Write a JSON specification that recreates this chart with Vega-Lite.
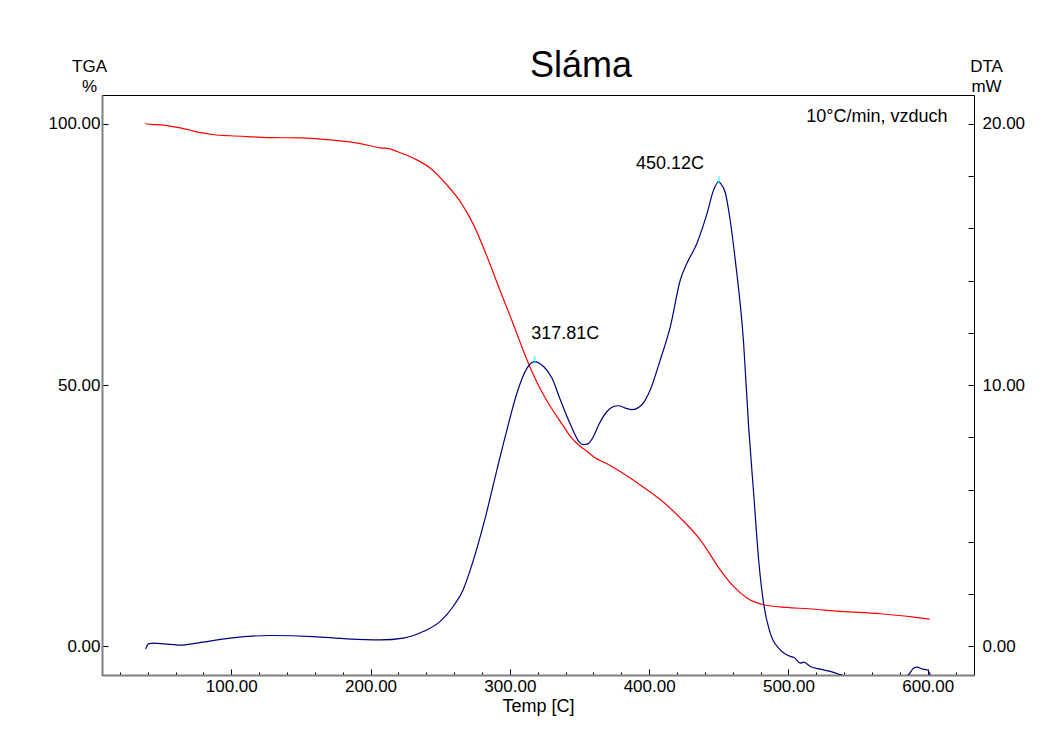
{
  "$schema": "https://vega.github.io/schema/vega-lite/v6.json",
  "width": 872,
  "height": 580,
  "autosize": "none",
  "padding": {"left": 102, "top": 95, "right": 76, "bottom": 58},
  "background": "white",
  "config": {
    "view": {"stroke": "black", "strokeWidth": 1},
    "font": "Liberation Sans",
    "axis": {
      "grid": false,
      "labelFont": "Liberation Sans",
      "titleFont": "Liberation Sans",
      "labelColor": "black",
      "titleColor": "black",
      "tickColor": "black",
      "labelFontSize": 17,
      "titleFontSize": 17,
      "titleFontWeight": "normal",
      "labelOverlap": false,
      "labelFlush": false
    }
  },
  "title": {
    "text": "Sláma",
    "font": "Liberation Sans",
    "fontSize": 36,
    "fontWeight": "normal",
    "color": "black",
    "anchor": "middle",
    "frame": "group",
    "baseline": "alphabetic",
    "offset": 0,
    "dx": 43,
    "dy": 56
  },
  "datasets": {
    "tga": [
      {"T": 38.3, "TGA": 100.0},
      {"T": 44.2, "TGA": 99.85},
      {"T": 49.0, "TGA": 99.8},
      {"T": 55.0, "TGA": 99.6},
      {"T": 63.4, "TGA": 99.2},
      {"T": 70.0, "TGA": 98.8},
      {"T": 77.7, "TGA": 98.3},
      {"T": 88.0, "TGA": 97.9},
      {"T": 99.3, "TGA": 97.7},
      {"T": 115.0, "TGA": 97.5},
      {"T": 128.0, "TGA": 97.35},
      {"T": 149.5, "TGA": 97.3},
      {"T": 171.0, "TGA": 96.9},
      {"T": 192.6, "TGA": 96.2},
      {"T": 207.0, "TGA": 95.4},
      {"T": 213.5, "TGA": 95.25},
      {"T": 215.4, "TGA": 95.05},
      {"T": 230.9, "TGA": 93.4},
      {"T": 242.9, "TGA": 91.5},
      {"T": 254.8, "TGA": 88.3},
      {"T": 264.4, "TGA": 85.1},
      {"T": 273.9, "TGA": 80.7},
      {"T": 283.6, "TGA": 74.6},
      {"T": 293.1, "TGA": 68.0},
      {"T": 302.7, "TGA": 61.5},
      {"T": 312.3, "TGA": 54.8},
      {"T": 319.5, "TGA": 50.5},
      {"T": 326.6, "TGA": 47.0},
      {"T": 338.6, "TGA": 42.1},
      {"T": 343.4, "TGA": 40.2},
      {"T": 350.5, "TGA": 38.3},
      {"T": 354.1, "TGA": 37.6},
      {"T": 360.1, "TGA": 36.3},
      {"T": 372.0, "TGA": 34.6},
      {"T": 393.6, "TGA": 30.9},
      {"T": 408.0, "TGA": 28.1},
      {"T": 422.3, "TGA": 24.6},
      {"T": 436.7, "TGA": 20.4},
      {"T": 451.0, "TGA": 14.67},
      {"T": 460.6, "TGA": 11.48},
      {"T": 470.2, "TGA": 9.26},
      {"T": 482.1, "TGA": 7.98},
      {"T": 498.9, "TGA": 7.46},
      {"T": 514.4, "TGA": 7.21},
      {"T": 537.2, "TGA": 6.7},
      {"T": 565.9, "TGA": 6.26},
      {"T": 589.8, "TGA": 5.62},
      {"T": 601.3, "TGA": 5.24}
    ],
    "dta": [
      {"T": 38.5, "DTA": -0.1},
      {"T": 40.6, "DTA": 0.1},
      {"T": 44.2, "DTA": 0.13},
      {"T": 52.0, "DTA": 0.1},
      {"T": 63.4, "DTA": 0.05},
      {"T": 75.4, "DTA": 0.13},
      {"T": 99.3, "DTA": 0.32},
      {"T": 128.0, "DTA": 0.42},
      {"T": 158.9, "DTA": 0.38},
      {"T": 183.1, "DTA": 0.29},
      {"T": 207.0, "DTA": 0.25},
      {"T": 223.5, "DTA": 0.32},
      {"T": 237.8, "DTA": 0.57},
      {"T": 250.0, "DTA": 0.96},
      {"T": 259.3, "DTA": 1.53},
      {"T": 266.5, "DTA": 2.17},
      {"T": 271.6, "DTA": 2.93},
      {"T": 282.0, "DTA": 4.85},
      {"T": 290.7, "DTA": 6.76},
      {"T": 297.9, "DTA": 8.29},
      {"T": 305.1, "DTA": 9.7},
      {"T": 312.3, "DTA": 10.65},
      {"T": 317.5, "DTA": 10.9},
      {"T": 324.2, "DTA": 10.71},
      {"T": 330.2, "DTA": 10.27},
      {"T": 336.2, "DTA": 9.44},
      {"T": 343.4, "DTA": 8.5},
      {"T": 350.5, "DTA": 7.78},
      {"T": 352.9, "DTA": 7.72},
      {"T": 356.0, "DTA": 7.75},
      {"T": 360.1, "DTA": 8.04},
      {"T": 364.0, "DTA": 8.5},
      {"T": 369.7, "DTA": 8.99},
      {"T": 374.0, "DTA": 9.17},
      {"T": 378.0, "DTA": 9.21},
      {"T": 383.0, "DTA": 9.12},
      {"T": 387.6, "DTA": 9.06},
      {"T": 394.8, "DTA": 9.25},
      {"T": 400.8, "DTA": 9.82},
      {"T": 408.0, "DTA": 10.97},
      {"T": 415.2, "DTA": 12.24},
      {"T": 422.4, "DTA": 14.03},
      {"T": 427.2, "DTA": 14.67},
      {"T": 434.4, "DTA": 15.44},
      {"T": 441.6, "DTA": 16.58},
      {"T": 446.3, "DTA": 17.47},
      {"T": 449.9, "DTA": 17.79},
      {"T": 451.0, "DTA": 17.73},
      {"T": 454.7, "DTA": 17.35},
      {"T": 457.0, "DTA": 16.71},
      {"T": 461.8, "DTA": 14.79},
      {"T": 467.8, "DTA": 11.61},
      {"T": 471.4, "DTA": 8.42},
      {"T": 475.0, "DTA": 5.87},
      {"T": 478.6, "DTA": 3.32},
      {"T": 482.1, "DTA": 1.66},
      {"T": 486.9, "DTA": 0.51},
      {"T": 494.1, "DTA": -0.13},
      {"T": 501.3, "DTA": -0.38},
      {"T": 504.0, "DTA": -0.42},
      {"T": 508.5, "DTA": -0.64},
      {"T": 511.0, "DTA": -0.6},
      {"T": 515.7, "DTA": -0.77},
      {"T": 522.9, "DTA": -0.87},
      {"T": 532.4, "DTA": -0.99},
      {"T": 537.2, "DTA": -1.08},
      {"T": 545.0, "DTA": -1.18},
      {"T": 565.0, "DTA": -1.25},
      {"T": 583.0, "DTA": -1.18},
      {"T": 586.2, "DTA": -1.08},
      {"T": 589.8, "DTA": -0.83},
      {"T": 592.2, "DTA": -0.79},
      {"T": 595.8, "DTA": -0.86},
      {"T": 599.4, "DTA": -0.89},
      {"T": 601.3, "DTA": -1.02},
      {"T": 602.0, "DTA": -1.15}
    ],
    "peaks": [
      {"T": 317.81, "DTA": 10.97},
      {"T": 450.12, "DTA": 17.84}
    ],
    "peakLabels": [
      {"T": 315.4, "DTA": 11.76, "label": "317.81C"},
      {"T": 390.5, "DTA": 18.27, "label": "450.12C"}
    ],
    "notes": [
      {"T": 512.8, "TGA": 100.4, "label": "10°C/min, vzduch"}
    ]
  },
  "layer": [
    {
      "data": {"name": "tga"},
      "mark": {"type": "line", "color": "#FF0000", "strokeWidth": 1.2, "clip": true, "interpolate": "monotone"},
      "encoding": {
        "x": {
          "field": "T",
          "type": "quantitative",
          "scale": {"domain": [7.2, 633.2], "nice": false, "zero": false},
          "axis": {
            "orient": "bottom",
            "values": [100, 200, 300, 400, 500, 600],
            "format": ".2f",
            "offset": -6,
            "tickSize": 6,
            "labelPadding": 3,
            "domain": false,
            "title": "Temp [C]",
            "titleFontSize": 18,
            "titleY": 42,
            "titleBaseline": "alphabetic"
          }
        },
        "y": {
          "field": "TGA",
          "type": "quantitative",
          "scale": {"domain": [-5.46, 105.5], "nice": false, "zero": false},
          "axis": {
            "orient": "left",
            "values": [0, 50, 100],
            "format": ".2f",
            "offset": -6,
            "tickSize": 6,
            "labelPadding": 2,
            "domain": false,
            "title": ["TGA", "%"],
            "titleAngle": 0,
            "titleX": -19,
            "titleY": -24,
            "titleAlign": "center",
            "titleBaseline": "alphabetic",
            "titleLineHeight": 20
          }
        }
      }
    },
    {
      "data": {"name": "notes"},
      "mark": {"type": "text", "align": "left", "baseline": "alphabetic", "fontSize": 18, "font": "Liberation Sans", "color": "black"},
      "encoding": {
        "x": {
          "field": "T",
          "type": "quantitative",
          "axis": {
            "orient": "bottom",
            "values": [20, 40, 60, 80, 120, 140, 160, 180, 220, 240, 260, 280, 320, 340, 360, 380, 420, 440, 460, 480, 520, 540, 560, 580, 620],
            "offset": -3,
            "tickSize": 3,
            "labels": false,
            "domain": false,
            "title": null
          }
        },
        "y": {
          "field": "TGA",
          "type": "quantitative",
          "scale": {"domain": [-5.46, 105.5], "nice": false, "zero": false},
          "axis": {
            "orient": "left",
            "domain": true,
            "domainColor": "#808080",
            "domainWidth": 2,
            "ticks": false,
            "labels": false,
            "title": null
          }
        },
        "text": {"field": "label"}
      }
    },
    {
      "data": {"name": "dta"},
      "mark": {"type": "line", "color": "#000080", "strokeWidth": 1.2, "clip": true, "interpolate": "monotone"},
      "encoding": {
        "x": {
          "field": "T",
          "type": "quantitative",
          "axis": {
            "orient": "bottom",
            "domain": true,
            "domainColor": "#808080",
            "domainWidth": 2,
            "ticks": false,
            "labels": false,
            "title": null
          }
        },
        "y": {
          "field": "DTA",
          "type": "quantitative",
          "scale": {"domain": [-1.092, 21.1], "nice": false, "zero": false},
          "axis": {
            "orient": "right",
            "values": [0, 2, 4, 6, 8, 10, 12, 14, 16, 18, 20],
            "labelExpr": "datum.value % 10 === 0 ? format(datum.value, '.2f') : ''",
            "offset": -6,
            "tickSize": 6,
            "labelPadding": 8,
            "domain": false,
            "title": ["DTA", "mW"],
            "titleAngle": 0,
            "titleX": 18,
            "titleY": -24,
            "titleAlign": "center",
            "titleBaseline": "alphabetic",
            "titleLineHeight": 20
          }
        }
      }
    },
    {
      "data": {"name": "peaks"},
      "mark": {"type": "tick", "orient": "vertical", "color": "#00FFFF", "size": 8, "thickness": 1.5},
      "encoding": {
        "x": {"field": "T", "type": "quantitative", "axis": null},
        "y": {"field": "DTA", "type": "quantitative", "axis": null, "scale": {"domain": [-1.092, 21.1], "nice": false, "zero": false}}
      }
    },
    {
      "data": {"name": "peakLabels"},
      "mark": {"type": "text", "align": "left", "baseline": "alphabetic", "fontSize": 18, "font": "Liberation Sans", "color": "black"},
      "encoding": {
        "x": {"field": "T", "type": "quantitative", "axis": null},
        "y": {"field": "DTA", "type": "quantitative", "axis": null, "scale": {"domain": [-1.092, 21.1], "nice": false, "zero": false}},
        "text": {"field": "label"}
      }
    }
  ],
  "resolve": {"scale": {"y": "independent"}, "axis": {"x": "independent", "y": "independent"}}
}
